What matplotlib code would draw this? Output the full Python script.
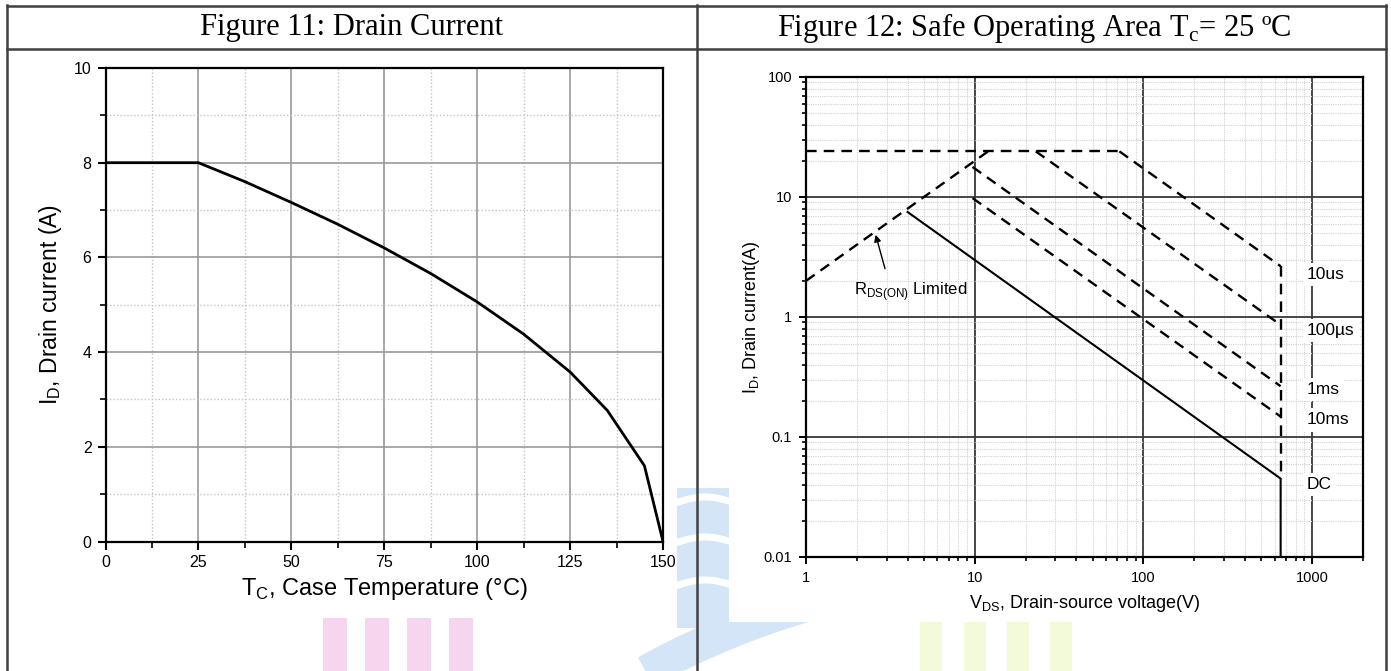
import numpy as np
import matplotlib
matplotlib.use("Agg")
import matplotlib.pyplot as plt
from matplotlib.patches import Rectangle
from matplotlib.ticker import FixedLocator, NullFormatter, LogLocator

plt.rcParams['font.family'] = ['Liberation Sans', 'DejaVu Sans']

# Figure 11: drain current vs case temperature
tc = [0, 25, 37.5, 50, 62.5, 75, 87.5, 100, 112.5, 125, 135, 145, 150]
id_tc = [8, 8, 7.6, 7.16, 6.7, 6.2, 5.66, 5.06, 4.38, 3.58, 2.77, 1.6, 0]

# Figure 12: safe operating area
rds_v = [1, 12]
rds_i = [2, 24]
top_v = [1, 72]
top_i = [24, 24]
us10_v = [72, 650]
us10_i = [24, 2.65]
us100_v = [23, 650]
us100_i = [24, 0.86]
ms1_v = [9.7, 650]
ms1_i = [17.8, 0.265]
ms10_v = [9.7, 650]
ms10_i = [9.8, 0.148]
dc_v = [4, 650, 650]
dc_i = [7.5, 0.045, 0.01]
vmax_v = [650, 650]
vmax_i = [2.65, 0.045]

pulse_labels = ['10us', '100\u00b5s', '1ms', '10ms', 'DC']
pulse_label_i = [2.25, 0.77, 0.25, 0.139, 0.04]

W, H = 1391, 671
fig = plt.figure(figsize=(W / 100, H / 100), dpi=100)

# page background: table borders and watermark
bg = fig.add_axes([0, 0, 1, 1], zorder=-10)
bg.set_xlim(0, W)
bg.set_ylim(H, 0)
bg.axis('off')

wm_blue = '#d4e5f8'
for x0 in [323, 365, 407, 449]:
    bg.add_patch(Rectangle((x0, 618), 24, 60, color='#f6d5ef', lw=0))
for x0 in [920, 964, 1007, 1050]:
    bg.add_patch(Rectangle((x0, 622), 22, 60, color='#f3fad9', lw=0))
bg.add_patch(Rectangle((677, 488), 52, 140, color=wm_blue, lw=0))
t = np.linspace(0, 1, 60)
for y0 in [505, 545, 588]:
    xs = 670 + 70 * t
    ys = y0 - 8 * np.sin(np.pi * t)
    bg.plot(xs, ys, color='white', lw=5, solid_capstyle='butt')
xs = 600 + 380 * t
bg.plot(xs, 705 - 125 * np.sin(np.pi / 2 * t) ** 0.8, color=wm_blue, lw=24,
        solid_capstyle='butt')
# white backing of the two chart images hides the watermark
bg.add_patch(Rectangle((500, 380), 177, 238, color='white', lw=0, zorder=3))
bg.add_patch(Rectangle((729, 380), 300, 242, color='white', lw=0, zorder=3))

lc = '#404040'
bg.plot([7, 1386], [5.5, 5.5], color=lc, lw=1.8, zorder=4)
bg.plot([7, 1386], [49, 49], color=lc, lw=1.8, zorder=4)
bg.plot([7, 7], [5, H], color=lc, lw=1.8, zorder=4)
bg.plot([1386, 1386], [5, H], color=lc, lw=1.8, zorder=4)
bg.plot([697, 697], [5, H], color=lc, lw=1.8, zorder=4)

serif = ['Liberation Serif', 'DejaVu Serif']
bg.text(352, 28, 'Figure 11: Drain Current', family=serif, fontsize=22,
        ha='center', va='center')
bg.text(1034, 28, 'Figure 12: Safe Operating Area T$_\\mathregular{c}$= 25 \u00baC',
        family=serif, fontsize=22, ha='center', va='center')

# ---- left chart
ax1 = fig.add_axes([105.5 / W, 1 - 541.5 / H, 557.5 / W, 473.5 / H])
ax1.plot(tc, id_tc, color='k', lw=2, zorder=3)
ax1.set_xlim(0, 150)
ax1.set_ylim(0, 10)
ax1.set_xticks(np.arange(0, 151, 25))
ax1.set_xticks(np.arange(12.5, 150, 25), minor=True)
ax1.set_yticks(np.arange(0, 11, 2))
ax1.set_yticks(np.arange(1, 10, 2), minor=True)
ax1.grid(which='major', color='#9a9a9a', lw=1.2)
ax1.grid(which='minor', color='#c4c4c4', lw=1, ls=(0, (1, 1.5)))
for s in ax1.spines.values():
    s.set_linewidth(1.6)
ax1.tick_params(which='major', direction='out', length=6, width=1.5,
                labelsize=11.5, colors='k', pad=4)
ax1.tick_params(which='minor', direction='out', length=4, width=1.2)
ax1.set_xlabel('T$_\\mathregular{C}$, Case Temperature (\u00b0C)', fontsize=17, labelpad=4)
ax1.set_ylabel('I$_\\mathregular{D}$, Drain current (A)', fontsize=16.5, labelpad=7)

# ---- right chart
ax2 = fig.add_axes([806 / W, 1 - 557 / H, 557 / W, 480 / H])
ax2.set_xscale('log')
ax2.set_yscale('log')
ax2.set_xlim(1, 2000)
ax2.set_ylim(0.01, 100)
dash = dict(color='k', lw=1.7, ls=(0, (4.5, 3)), zorder=3)
ax2.plot(rds_v, rds_i, **dash)
ax2.plot(top_v, top_i, **dash)
ax2.plot(us10_v, us10_i, **dash)
ax2.plot(us100_v, us100_i, **dash)
ax2.plot(ms1_v, ms1_i, **dash)
ax2.plot(ms10_v, ms10_i, **dash)
ax2.plot(vmax_v, vmax_i, **dash)
ax2.plot(dc_v, dc_i, color='k', lw=1.5, zorder=3)

xt = [1, 10, 100, 1000]
yt = [0.01, 0.1, 1, 10, 100]
ax2.xaxis.set_major_locator(FixedLocator(xt))
ax2.yaxis.set_major_locator(FixedLocator(yt))
ax2.set_xticklabels([str(v) for v in xt], fontsize=10.5)
ax2.set_yticklabels(['0.01', '0.1', '1', '10', '100'], fontsize=10.5)
ax2.xaxis.set_minor_locator(LogLocator(subs=np.arange(2, 10), numticks=20))
ax2.yaxis.set_minor_locator(LogLocator(subs=np.arange(2, 10), numticks=20))
ax2.xaxis.set_minor_formatter(NullFormatter())
ax2.yaxis.set_minor_formatter(NullFormatter())
ax2.grid(which='major', color='#383838', lw=1.3)
ax2.grid(which='minor', color='#d2d2d2', lw=0.8, ls=(0, (1, 1)))
for s in ax2.spines.values():
    s.set_linewidth(1.6)
ax2.tick_params(which='major', direction='out', length=5, width=1.4, pad=5)
ax2.tick_params(which='minor', direction='out', length=3, width=1.2)

for lab, yv in zip(pulse_labels, pulse_label_i):
    ax2.text(930, yv, lab, fontsize=12.5, ha='left', va='center',
             zorder=4, bbox=dict(facecolor='white', edgecolor='none', pad=3))

ax2.text(1.92, 1.62, 'R$_\\mathregular{DS(ON)}$ Limited', fontsize=12,
         ha='left', va='center')
ax2.annotate('', xy=(2.56, 5.1), xytext=(2.97, 2.4),
             arrowprops=dict(arrowstyle='-|>', color='k', lw=1, mutation_scale=10))

ax2.set_xlabel('V$_\\mathregular{DS}$, Drain-source voltage(V)', fontsize=13,
               labelpad=6)
ax2.set_ylabel('I$_\\mathregular{D}$, Drain current(A)', fontsize=13, labelpad=1)

fig.savefig('out.png', dpi=100)
